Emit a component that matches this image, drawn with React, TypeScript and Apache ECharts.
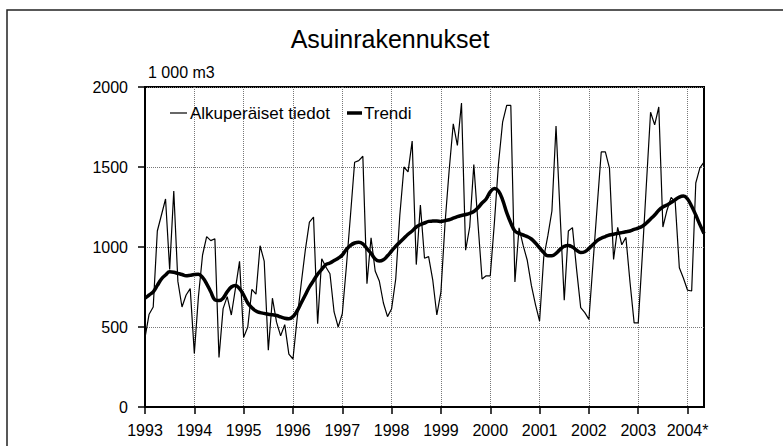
import React, { useEffect, useRef } from "react";
import * as echarts from "echarts";

const FONT = "'Liberation Sans', Arial, sans-serif";

const yearLabels = ["1993", "1994", "1995", "1996", "1997", "1998", "1999", "2000", "2001", "2002", "2003", "2004*"];
const firstYear = 1993;
const seriesNames = ["Alkuperäiset tiedot", "Trendi"];

// Monthly volumes, 1 000 m3 (Jan 1993 – May 2004)
const original = [
  // 1993
  433, 580, 625, 1100, 1200, 1300, 860, 1350, 785, 625, 700, 740,
  // 1994
  335, 690, 950, 1065, 1040, 1052, 310, 615, 690, 575, 740, 910,
  // 1995
  435, 500, 735, 705, 1008, 912, 355, 680, 530, 445, 515, 330,
  // 1996
  300, 550, 770, 980, 1156, 1187, 521, 927, 875, 833, 594, 500,
  // 1997
  583, 880, 1200, 1530, 1540, 1567, 771, 1058, 850, 788, 650, 565,
  // 1998
  614, 800, 1200, 1500, 1470, 1662, 890, 1262, 930, 940, 795, 575,
  // 1999
  720, 1150, 1480, 1770, 1635, 1900, 980, 1125, 1515, 1150, 800, 820,
  // 2000
  820, 1150, 1520, 1780, 1885, 1885, 781, 1120, 1010, 917, 760, 640,
  // 2001
  537, 933, 1069, 1225, 1756, 1200, 667, 1100, 1121, 860, 621, 590,
  // 2002
  548, 900, 1250, 1594, 1594, 1493, 922, 1123, 1014, 1060, 780, 526,
  // 2003
  526, 950, 1400, 1842, 1763, 1875, 1125, 1230, 1310, 1280, 870, 805,
  // 2004
  730, 725, 1400, 1495, 1531,
];

const trend = [
  // 1993
  680, 700, 720, 760, 800, 825, 845, 842, 835, 828, 820, 824,
  // 1994
  828, 830, 810, 770, 720, 670, 665, 680, 720, 750, 760, 740,
  // 1995
  700, 650, 620, 600, 590, 585, 580, 576, 572, 563, 555, 552,
  // 1996
  565, 600, 650, 700, 750, 790, 830, 860, 890, 900, 915, 930,
  // 1997
  950, 985, 1010, 1025, 1030, 1020, 990, 960, 925, 912, 920, 945,
  // 1998
  975, 1005, 1030, 1055, 1080, 1100, 1125, 1140, 1150, 1160, 1162, 1163,
  // 1999
  1160, 1165, 1170, 1180, 1190, 1197, 1203, 1210, 1222, 1245, 1275, 1300,
  // 2000
  1345, 1365, 1350, 1295, 1215, 1150, 1100, 1085, 1075, 1065, 1050, 1025,
  // 2001
  995, 965, 945, 945, 960, 985, 1005, 1010, 1000, 980, 965, 970,
  // 2002
  990, 1015, 1040, 1055, 1065, 1075, 1080, 1085, 1090, 1095, 1100, 1110,
  // 2003
  1118, 1130, 1150, 1175, 1200, 1230, 1250, 1262, 1278, 1295, 1312, 1318,
  // 2004
  1300, 1255, 1200, 1140, 1085,
];

const categories = original.map(
  (_, i) => `${firstYear + Math.floor(i / 12)}-${String((i % 12) + 1).padStart(2, "0")}`
);

const isYearStart = (i: number) => i % 12 === 0;

export default function App() {
  const ref = useRef<HTMLDivElement>(null);

  useEffect(() => {
    if (!ref.current) return;
    const chart = echarts.init(ref.current, undefined, { renderer: "svg" });
    chart.setOption({
      animation: false,
      backgroundColor: "#ffffff",
      textStyle: { fontFamily: FONT },
      grid: {
        left: 145,
        right: 79,
        top: 87,
        bottom: 39,
        show: true,
        borderColor: "#000",
        borderWidth: 2,
        backgroundColor: "transparent",
      },
      xAxis: {
        type: "category",
        data: categories,
        boundaryGap: false,
        axisLine: { lineStyle: { color: "#000", width: 2 } },
        axisTick: {
          show: true,
          length: 7,
          interval: (i: number) => isYearStart(i),
          lineStyle: { color: "#000", width: 1.5 },
        },
        axisLabel: {
          interval: (i: number) => isYearStart(i),
          formatter: (_v: string, i: number) => yearLabels[Math.floor(i / 12)],
          color: "#000",
          fontSize: 16,
          margin: 15,
          fontFamily: FONT,
        },
        splitLine: {
          show: true,
          interval: (i: number) => isYearStart(i) && i > 0,
          lineStyle: { type: "dotted", color: "#777", width: 1 },
        },
      },
      yAxis: {
        type: "value",
        min: 0,
        max: 2000,
        interval: 500,
        axisLine: { show: true, lineStyle: { color: "#000", width: 2 } },
        axisTick: { show: true, length: 7, lineStyle: { color: "#000", width: 1.5 } },
        axisLabel: {
          color: "#000",
          fontSize: 16,
          margin: 17,
          fontFamily: FONT,
          formatter: (v: number) => String(v),
        },
        splitLine: { show: true, lineStyle: { type: "dotted", color: "#777", width: 1 } },
      },
      series: [
        {
          name: seriesNames[0],
          type: "line",
          data: original,
          symbol: "none",
          color: "#000",
          lineStyle: { color: "#000", width: 1.2 },
          z: 2,
        },
        {
          name: seriesNames[1],
          type: "line",
          data: trend,
          symbol: "none",
          smooth: 0.4,
          color: "#000",
          lineStyle: { color: "#000", width: 3.5 },
          z: 3,
        },
      ],
      graphic: [
        {
          type: "rect",
          shape: { x: 7, y: 10, width: 900, height: 600 },
          style: { fill: "none", stroke: "#222", lineWidth: 1.5 },
          silent: true,
        },
        {
          type: "text",
          x: 390,
          y: 39,
          style: {
            text: "Asuinrakennukset",
            fontSize: 25,
            fontFamily: FONT,
            fill: "#000",
            textAlign: "center",
            textVerticalAlign: "middle",
          },
        },
        {
          type: "text",
          x: 148,
          y: 72,
          style: {
            text: "1 000 m3",
            fontSize: 16,
            fontFamily: FONT,
            fill: "#000",
            textAlign: "left",
            textVerticalAlign: "middle",
          },
        },
        // legend
        {
          type: "line",
          shape: { x1: 170, y1: 113, x2: 187, y2: 113 },
          style: { stroke: "#000", lineWidth: 1.2 },
          z: 10,
        },
        {
          type: "text",
          x: 190,
          y: 113,
          style: {
            text: seriesNames[0],
            fontSize: 17,
            fontFamily: FONT,
            fill: "#000",
            textAlign: "left",
            textVerticalAlign: "middle",
          },
          z: 10,
        },
        {
          type: "line",
          shape: { x1: 347, y1: 113, x2: 362, y2: 113 },
          style: { stroke: "#000", lineWidth: 3.5 },
          z: 10,
        },
        {
          type: "text",
          x: 364,
          y: 113,
          style: {
            text: seriesNames[1],
            fontSize: 17,
            fontFamily: FONT,
            fill: "#000",
            textAlign: "left",
            textVerticalAlign: "middle",
          },
          z: 10,
        },
      ],
    });
    return () => chart.dispose();
  }, []);

  return (
    <div
      ref={ref}
      style={{ position: "fixed", left: 0, top: 0, width: 783, height: 446, background: "#fff" }}
    />
  );
}
